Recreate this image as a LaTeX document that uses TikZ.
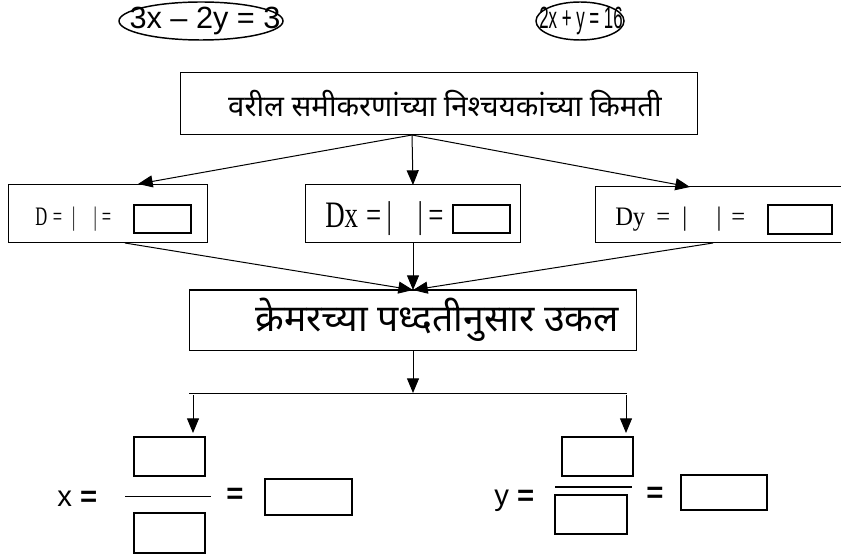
\documentclass[tikz,border=0pt]{standalone}
\usepackage{graphicx}
\usepackage{fontspec}
\setmainfont{Liberation Serif}
\newfontfamily\arialf{Liberation Sans}
\newfontfamily\devaf[Script=Devanagari]{Noto Sans}
\usetikzlibrary{arrows.meta,shapes.geometric,fit}

\begin{document}
\begin{tikzpicture}[x=0.75pt,y=-0.75pt,
  frame/.style={draw, line width=0.75pt, inner sep=0pt},
  blank/.style={draw, line width=1.4pt, inner sep=0pt},
  thinblank/.style={draw, line width=0.9pt, inner sep=0pt},
  eqn/.style={draw, ellipse, line width=1.1pt, inner sep=0pt},
  arr/.style={line width=0.75pt, -{Triangle[length=11pt,width=9pt]}},
  plain/.style={line width=0.75pt},
  eqtext/.style={font=\arialf\fontsize{23}{25}\selectfont, inner sep=0pt},
  devtext/.style={font=\devaf\fontsize{22}{26}\selectfont, inner sep=0pt},
  dettext/.style={inner sep=0pt, anchor=west},
  fractext/.style={font=\arialf\fontsize{22}{24}\selectfont, inner sep=0pt}
]
\useasboundingbox (0,0) rectangle (841,559);

% the two equations
\node[eqn, minimum width=123pt, minimum height=28.5pt] (e1) at (201,21) {};
\node[eqtext] at (205,21) {3x – 2y = 3};
\node[eqn, minimum width=66pt, minimum height=28.5pt] (e2) at (580,21) {};
\node[eqtext] at (581,21) {\scalebox{0.55}[1]{2x + y = 16}};

% determinants heading
\node[frame, fit={(180,73)(697,135)}] (top) {};
\node[devtext] at (445,104) {वरील समीकरणांच्या निश्चयकांच्या किमती};
\coordinate (tophub) at (412,135);

% the three determinant boxes
\node[frame, fit={(8,185)(207,243)}] (dbox) {};
\node[dettext, font=\fontsize{20}{22}\selectfont] at (35,219)
  {\scalebox{0.62}[1]{D\hspace{0.35em}=\hspace{0.6em}|\hspace{1.1em}|\hspace{0.3em}=}};
\node[blank, fit={(134,205)(191,233)}] (dval) {};

\node[frame, fit={(305,185)(520,243)}] (dxbox) {};
\node[dettext, font=\fontsize{28}{30}\selectfont] at (325,219)
  {\scalebox{0.72}[1]{Dx\hspace{0.3em}=\hspace{0.2em}|\hspace{0.95em}|\hspace{0.2em}=}};
\node[blank, fit={(453,205)(510,233)}] (dxval) {};

\node[frame, fit={(595,187)(860,243)}] (dybox) {};
\node[dettext, font=\fontsize{20}{22}\selectfont] at (615,219)
  {\scalebox{0.92}[1]{Dy\hspace{0.45em}=\hspace{0.5em}|\hspace{1.2em}|\hspace{0.4em}=}};
\node[blank, fit={(768,205)(832,234)}] (dyval) {};

\coordinate (dtop)  at (138,184);
\coordinate (dxtop) at (413,185);
\coordinate (dytop) at (690,187);
\draw[arr] (tophub) -- (dtop);
\draw[arr] (tophub) -- (dxtop);
\draw[arr] (tophub) -- (dytop);

% Cramer's rule box
\node[frame, fit={(189,290)(636,350)}] (cramer) {};
\node[devtext, font=\devaf\fontsize{28}{32}\selectfont] at (437,320) {क्रेमरच्या पध्दतीनुसार उकल};
\coordinate (cin) at (413,290);
\coordinate (dout)  at (125,243);
\coordinate (dxout) at (413,243);
\coordinate (dyout) at (713,243);
\draw[arr] (dout) -- (cin);
\draw[arr] (dxout) -- (cin);
\draw[arr] (dyout) -- (cin);

% split to the two answers
\coordinate (cout) at (413,350);
\coordinate (bar) at (413,393);
\coordinate (barl) at (189,393);
\coordinate (barr) at (627,393);
\draw[arr] (cout) -- (bar);
\draw[plain] (barl) -- (barr);
\coordinate (xs) at (193,395);
\coordinate (xt) at (193,433);
\coordinate (ys) at (626,395);
\coordinate (yt) at (626,433);
\draw[arr] (xs) -- (xt);
\draw[arr] (ys) -- (yt);

% x = fraction
\node[fractext, anchor=base west] at (57,506) {x \textbf{=}};
\node[blank, fit={(134,437)(205,476)}] (xnum) {};
\coordinate (xl1) at (125,496);
\coordinate (xl2) at (211,496);
\draw[plain] (xl1) -- (xl2);
\node[blank, fit={(134,513)(205,553)}] (xden) {};
\node[fractext] at (235,496) {\textbf{=}};
\node[thinblank, fit={(265,479)(352,515)}] (xres) {};

% y = fraction
\node[fractext, anchor=base west] at (494,505) {y \textbf{=}};
\node[blank, fit={(562,437)(633,476)}] (ynum) {};
\coordinate (yl1) at (555,487);
\coordinate (yl2) at (632,487);
\draw[line width=1.5pt] (yl1) -- (yl2);
\node[blank, fit={(555,495)(627,534)}] (yden) {};
\node[fractext] at (655,495) {\textbf{=}};
\node[thinblank, fit={(681,475)(767,510)}] (yres) {};
\end{tikzpicture}
\end{document}
